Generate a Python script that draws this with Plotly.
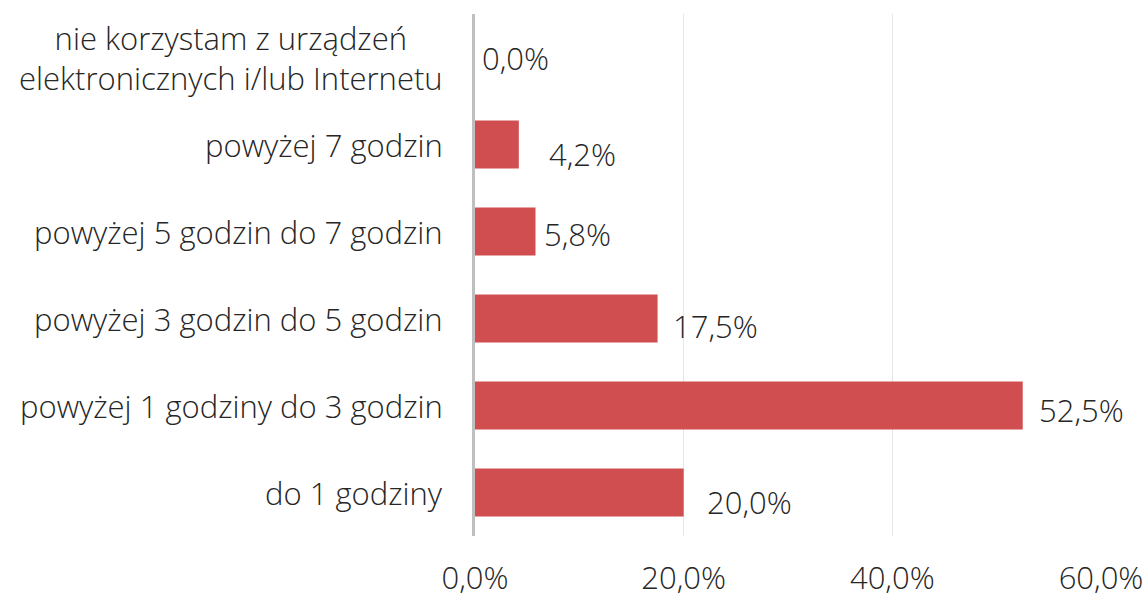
import plotly.graph_objects as go

categories = [
    "nie korzystam z urządzeń<br>elektronicznych i/lub Internetu",
    "powyżej 7 godzin",
    "powyżej 5 godzin do 7 godzin",
    "powyżej 3 godzin do 5 godzin",
    "powyżej 1 godziny do 3 godzin",
    "do 1 godziny",
]
values = [0.0, 4.2, 5.8, 17.5, 52.5, 20.0]
tick_values = [0, 20, 40, 60]
tick_labels = ["0,0%", "20,0%", "40,0%", "60,0%"]

# label nudges (styling only)
label_dx = [5, 28, 6, 13, 14, 21]
label_dy = [0, -9, -2, -7, -4, -9]

FONT = dict(family="Open Sans", size=31, color="#262626", weight=300)
BAR = "#D14E50"

fig = go.Figure()
fig.add_trace(go.Bar(
    x=values, y=categories, orientation="h",
    marker=dict(color=BAR, line=dict(width=0)),
    hoverinfo="skip",
))

annotations = []
for c, v, dx, dy in zip(categories, values, label_dx, label_dy):
    annotations.append(dict(
        x=v, y=c, xref="x", yref="y", text=f"{v:.1f}".replace(".", ",") + "%",
        showarrow=False, xanchor="left", yanchor="middle",
        xshift=dx, yshift=dy, font=FONT,
    ))
for c in categories:
    annotations.append(dict(
        x=0, y=c, xref="paper", yref="y", text=c, showarrow=False,
        xanchor="right", yanchor="middle", align="center", xshift=-30,
        font=FONT,
    ))

fig.update_layout(
    width=1147, height=599,
    margin=dict(l=475, r=46, t=14, b=63, autoexpand=False),
    paper_bgcolor="white", plot_bgcolor="white",
    showlegend=False,
    bargap=0.45,
    font=FONT,
    annotations=annotations,
    xaxis=dict(
        range=[0, 60], tickvals=tick_values, ticktext=tick_labels,
        showgrid=True, gridcolor="#E6E6E6", gridwidth=1,
        zeroline=False, showline=False, ticks="", automargin=False,
        ticklabelstandoff=21, tickfont=FONT,
    ),
    yaxis=dict(
        categoryorder="array", categoryarray=categories[::-1],
        showticklabels=False, showgrid=False, zeroline=False, automargin=False,
        showline=True, linecolor="#BFBFBF", linewidth=3, ticks="",
    ),
)

fig.write_html(
    "out.html",
    config={"displayModeBar": False},
    post_script="document.body.style.margin='0';document.body.style.overflow='hidden';",
)
